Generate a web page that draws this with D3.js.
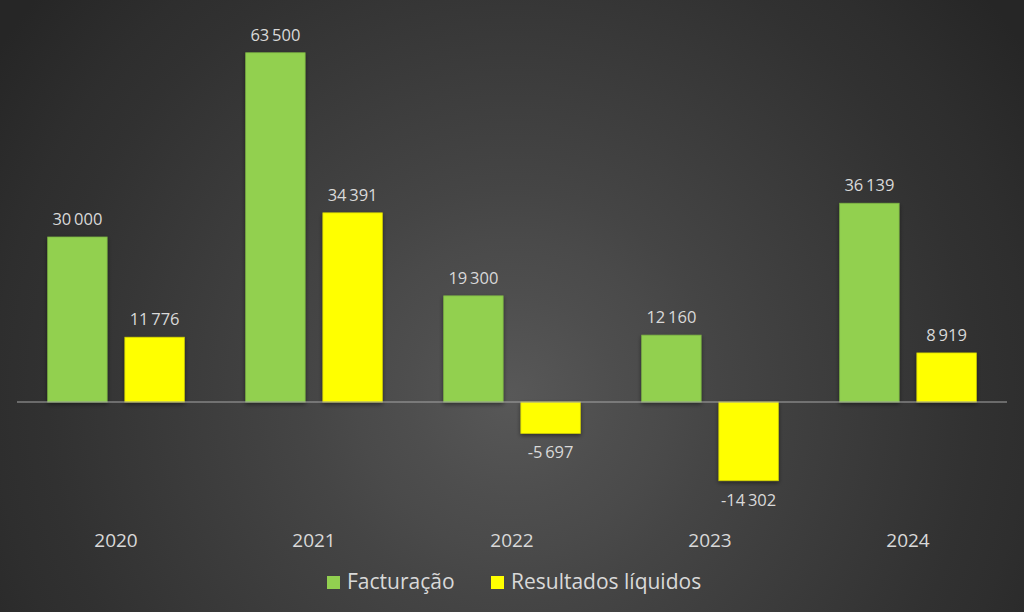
<!DOCTYPE html>
<html>
<head>
<meta charset="utf-8">
<script src="https://cdn.jsdelivr.net/npm/d3@7"></script>
<style>
  body { margin: 0; background: #2b2b2b; }
  svg { display: block; font-family: "Open Sans", Roboto, sans-serif; }
</style>
</head>
<body>
<div id="chart"></div>
<script>
// chart data
var years = ["2020", "2021", "2022", "2023", "2024"];
var facturacao = [30000, 63500, 19300, 12160, 36139];
var resultados = [11776, 34391, -5697, -14302, 8919];
var seriesNames = ["Facturação", "Resultados líquidos"];
var seriesColors = ["#92d050", "#ffff00"];
var seriesBorders = ["#7cb342", "#d6d600"];

var width = 1024, height = 612;
var margin = {left: 17, right: 17};
var baseY = 402;

var svg = d3.select("#chart").append("svg")
  .attr("width", width)
  .attr("height", height);

var defs = svg.append("defs");

// background radial gradient with slight banding
var grad = defs.append("radialGradient")
  .attr("id", "bg")
  .attr("gradientUnits", "userSpaceOnUse")
  .attr("cx", 512).attr("cy", 395).attr("r", 620);
var bands = 12;
for (var i = 0; i <= bands; i++) {
  var t = i / bands;
  var c = d3.interpolateRgb("#585858", "#262626")(Math.pow(t, 0.9));
  grad.append("stop").attr("offset", t).attr("stop-color", c);
}
svg.append("rect").attr("width", width).attr("height", height).attr("fill", "url(#bg)");

var shadow = defs.append("filter").attr("id", "shadow")
  .attr("x", "-20%").attr("y", "-20%").attr("width", "140%").attr("height", "140%");
shadow.append("feDropShadow")
  .attr("dx", 0).attr("dy", 2).attr("stdDeviation", 2)
  .attr("flood-color", "#000").attr("flood-opacity", 0.45);

// scales
var x0 = d3.scaleBand().domain(years)
  .range([margin.left, width - margin.right])
  .paddingInner(0.31).paddingOuter(0.155);
var x1 = d3.scaleBand().domain([0, 1])
  .range([0, x0.bandwidth()])
  .paddingInner(0.23);
var y = d3.scaleLinear().domain([0, 30000]).range([baseY, 237]);

var fmt = d3.formatLocale({decimal: ",", thousands: "\u2009", grouping: [3], currency: ["", "€"], minus: "-"}).format(",d");

var series = [facturacao, resultados];

series.forEach(function(vals, s) {
  var g = svg.append("g");
  g.selectAll("rect")
    .data(vals)
    .enter().append("rect")
      .attr("x", function(d, i) { return x0(years[i]) + x1(s); })
      .attr("y", function(d) { return Math.min(y(d), y(0)); })
      .attr("width", x1.bandwidth())
      .attr("height", function(d) { return Math.abs(y(d) - y(0)); })
      .attr("fill", seriesColors[s])
      .attr("stroke", seriesBorders[s])
      .attr("stroke-width", 0.75)
      .attr("filter", "url(#shadow)");

  g.selectAll("text")
    .data(vals)
    .enter().append("text")
      .attr("x", function(d, i) { return x0(years[i]) + x1(s) + x1.bandwidth() / 2; })
      .attr("y", function(d) { return d >= 0 ? y(d) - 12 : y(d) + 25; })
      .attr("text-anchor", "middle")
      .attr("fill", "#d9d9d9")
      .style("font-size", "16.5px")
      .text(function(d) { return fmt(d); });
});

// zero axis line
svg.append("line")
  .attr("x1", margin.left).attr("x2", width - margin.right)
  .attr("y1", y(0)).attr("y2", y(0))
  .attr("stroke", "#a6a6a6").attr("stroke-width", 1.2);

// category labels
svg.selectAll(".cat")
  .data(years)
  .enter().append("text")
    .attr("class", "cat")
    .attr("x", function(d) { return x0(d) + x0.bandwidth() / 2; })
    .attr("y", 547)
    .attr("text-anchor", "middle")
    .attr("fill", "#d9d9d9")
    .style("font-size", "19px")
    .text(function(d) { return d; });

// legend
var legend = svg.append("g").attr("transform", "translate(327,589)");
var lx = [0, 164];
seriesNames.forEach(function(name, i) {
  legend.append("rect")
    .attr("x", lx[i]).attr("y", -13)
    .attr("width", 13).attr("height", 13)
    .attr("fill", seriesColors[i]);
  legend.append("text")
    .attr("x", lx[i] + 20).attr("y", 0)
    .attr("fill", "#d9d9d9")
    .style("font-size", "21px")
    .text(name);
});
</script>
</body>
</html>
